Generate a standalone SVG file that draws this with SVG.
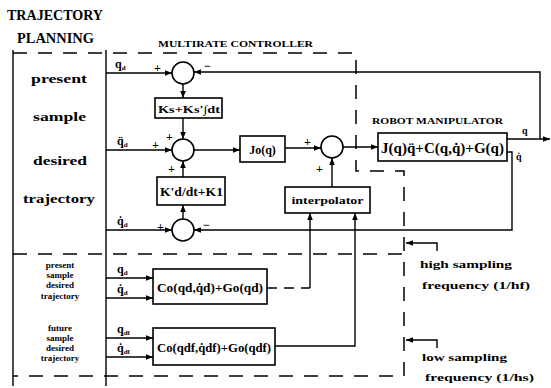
<svg xmlns="http://www.w3.org/2000/svg" width="551" height="388" viewBox="0 0 551 388">
<style>
text{font-family:"Liberation Serif","DejaVu Serif",serif;font-weight:bold;fill:#000}
.ln{fill:none;stroke:#000;stroke-width:1.4}
.ar{fill:none;stroke:#000;stroke-width:1.4;marker-end:url(#ah)}
.da{fill:none;stroke:#000;stroke-width:1.5;stroke-dasharray:14 11}
.bx{fill:#fff;stroke:#000;stroke-width:1.6}
.sj{fill:#fff;stroke:#000;stroke-width:1.6}
.t9{font-size:9px}
.t10{font-size:10px}
.t12{font-size:12px}
.sub{font-size:7px}
</style>
<defs>
<marker id="ah" viewBox="0 0 10 10" refX="10" refY="5" markerWidth="7" markerHeight="7" markerUnits="userSpaceOnUse" orient="auto"><path d="M0,1 L10,5 L0,9 z" fill="#000"/></marker>
</defs>
<rect width="551" height="388" fill="#fff"/>

<g id="boundaries">
<path class="da" d="M13,53 H356 V171 H404 V376 H13"/>
<path class="da" d="M13,254 H404"/>
<path class="ln" d="M13,50 V386 M106,50 V386"/>
</g>

<g id="connectors">
<path class="ar" d="M106,73 H172"/>
<path class="ar" d="M540,139 V72 H194"/>
<path class="ar" d="M183,84 V98"/>
<path class="ar" d="M183,118 V139"/>
<path class="ar" d="M106,150 H172"/>
<path class="ar" d="M194,150 H240"/>
<path class="ar" d="M285,148 H321"/>
<path class="ar" d="M343,147 H378"/>
<path class="ar" d="M507,139 H550"/>
<path class="ar" d="M507,152 H512 V230 H194"/>
<path class="ar" d="M106,230 H172"/>
<path class="ar" d="M183,219 V205"/>
<path class="ar" d="M183,177 V161"/>
<path class="ar" d="M332,187 V158"/>
<path class="da" style="stroke-dasharray:10 7" d="M267,288 H310"/>
<path class="ar" d="M310,288 V213"/>
<path class="ar" d="M275,346 H355 V213"/>
<path class="ar" d="M106,278 H153"/>
<path class="ar" d="M106,298 H153"/>
<path class="ar" d="M106,338 H153"/>
<path class="ar" d="M106,357 H153"/>
<path class="ar" d="M437,251 V243 H406"/>
<path class="ar" d="M437,348 V340 H406"/>
</g>

<g id="trajectory-planning">
<text x="7" y="20" font-size="15" textLength="96" lengthAdjust="spacingAndGlyphs">TRAJECTORY</text>
<text x="17" y="43" font-size="15" textLength="77" lengthAdjust="spacingAndGlyphs">PLANNING</text>
<text class="t12" x="31" y="83" textLength="56" lengthAdjust="spacingAndGlyphs">present</text>
<text class="t12" x="33" y="121" textLength="53" lengthAdjust="spacingAndGlyphs">sample</text>
<text class="t12" x="33" y="165" textLength="54" lengthAdjust="spacingAndGlyphs">desired</text>
<text class="t12" x="23" y="203" textLength="72" lengthAdjust="spacingAndGlyphs">trajectory</text>
<text class="t9" x="60" y="268" text-anchor="middle">present</text>
<text class="t9" x="60" y="278" text-anchor="middle">sample</text>
<text class="t9" x="60" y="288" text-anchor="middle">desired</text>
<text class="t9" x="60" y="299" text-anchor="middle">trajectory</text>
<text class="t9" x="60" y="331" text-anchor="middle">future</text>
<text class="t9" x="60" y="341" text-anchor="middle">sample</text>
<text class="t9" x="60" y="351" text-anchor="middle">desired</text>
<text class="t9" x="60" y="361" text-anchor="middle">trajectory</text>
</g>

<g id="labels">
<text class="t9" x="158" y="47" textLength="155" lengthAdjust="spacingAndGlyphs">MULTIRATE CONTROLLER</text>
<text class="t9" x="372" y="124" textLength="131" lengthAdjust="spacingAndGlyphs">ROBOT MANIPULATOR</text>
<text class="t12" x="115" y="68">q<tspan class="sub" dy="2">d</tspan></text>
<text class="t12" x="117" y="145">q̈<tspan class="sub" dy="2">d</tspan></text>
<text class="t12" x="117" y="225">q̇<tspan class="sub" dy="2">d</tspan></text>
<text class="t12" x="117" y="273">q<tspan class="sub" dy="2">d</tspan></text>
<text class="t12" x="117" y="293">q̇<tspan class="sub" dy="2">d</tspan></text>
<text class="t12" x="117" y="333">q<tspan class="sub" dy="2">df</tspan></text>
<text class="t12" x="117" y="352">q̇<tspan class="sub" dy="2">df</tspan></text>
<text class="t10" x="522" y="134">q</text>
<text class="t10" x="516" y="160">q̇</text>
<text class="t12" x="154" y="72">+</text>
<text class="t12" x="204" y="70">−</text>
<text class="t12" x="152" y="149">+</text>
<text class="t12" x="166" y="141">+</text>
<text class="t12" x="168" y="173">+</text>
<text class="t12" x="157" y="231">+</text>
<text class="t12" x="203" y="229">−</text>
<text class="t12" x="304" y="146">+</text>
<text class="t12" x="316" y="173">+</text>
<text class="t10" x="420" y="268" textLength="92" lengthAdjust="spacingAndGlyphs">high sampling</text>
<text class="t10" x="422" y="289" textLength="108" lengthAdjust="spacingAndGlyphs">frequency (1/hf)</text>
<text class="t10" x="422" y="361" textLength="85" lengthAdjust="spacingAndGlyphs">low sampling</text>
<text class="t10" x="425" y="381" textLength="109" lengthAdjust="spacingAndGlyphs">frequency (1/hs)</text>
</g>

<g id="sum1"><circle class="sj" cx="183" cy="73" r="11"/></g>
<g id="sum2"><circle class="sj" cx="183" cy="150" r="11"/></g>
<g id="sum3"><circle class="sj" cx="332" cy="147" r="11"/></g>
<g id="sum4"><circle class="sj" cx="183" cy="230" r="11"/></g>

<g id="pi-block"><rect class="bx" x="155" y="98" width="67" height="20"/><text x="158" y="113" font-size="11" textLength="62" lengthAdjust="spacingAndGlyphs">Ks+Ks'∫dt</text></g>
<g id="pd-block"><rect class="bx" x="157" y="177" width="68" height="28"/><text x="160" y="196" font-size="12" textLength="63" lengthAdjust="spacingAndGlyphs">K'd/dt+K1</text></g>
<g id="jo-block"><rect class="bx" x="240" y="136" width="45" height="26"/><text x="262.5" y="154" font-size="12" text-anchor="middle">Jo(q)</text></g>
<g id="robot"><rect class="bx" x="378" y="133" width="129" height="28"/><text x="381" y="153" font-size="14" textLength="123" lengthAdjust="spacingAndGlyphs">J(q)q̈+C(q,q̇)+G(q)</text></g>
<g id="interpolator"><rect class="bx" x="285" y="187" width="85" height="26"/><text x="327.5" y="204" font-size="11" text-anchor="middle" textLength="72" lengthAdjust="spacingAndGlyphs">interpolator</text></g>
<g id="co-present"><rect class="bx" x="153" y="269" width="114" height="35"/><text x="157" y="292" font-size="13" textLength="106" lengthAdjust="spacingAndGlyphs">Co(qd,q̇d)+Go(qd)</text></g>
<g id="co-future"><rect class="bx" x="153" y="328" width="122" height="37"/><text x="157" y="352" font-size="13" textLength="114" lengthAdjust="spacingAndGlyphs">Co(qdf,q̇df)+Go(qdf)</text></g>
</svg>
